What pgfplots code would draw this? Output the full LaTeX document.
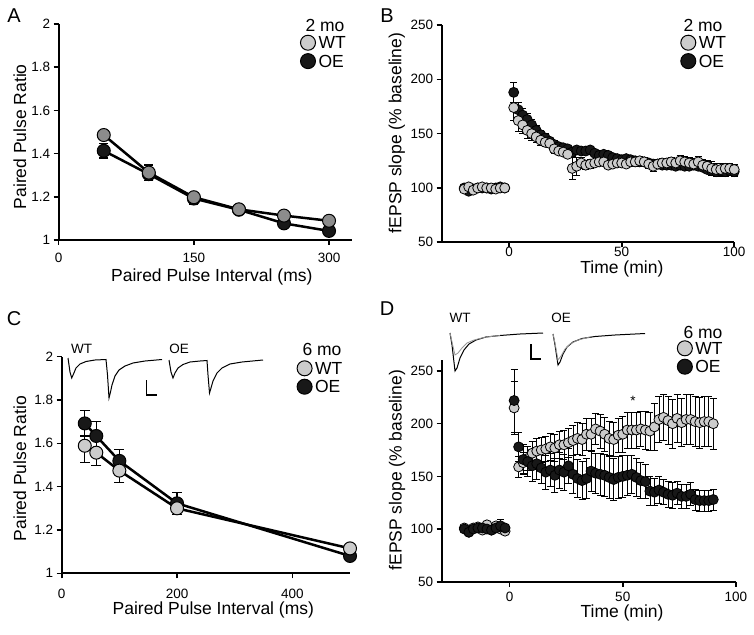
\documentclass[border=0pt]{standalone}
\usepackage{fontspec}
\setmainfont{Liberation Sans}
\usepackage{pgfplots}
\pgfplotsset{compat=1.18}
\definecolor{wtfill}{RGB}{204,204,204}
\definecolor{wtdark}{RGB}{140,140,140}
\definecolor{oefill}{RGB}{24,24,24}
\definecolor{tracegray}{RGB}{150,150,150}
\newcommand{\ticksize}{\fontsize{13.5}{15}\selectfont}
\newcommand{\labsize}{\fontsize{17.5}{19}\selectfont}

\pgfplotsset{
  panel/.style={
    scale only axis, anchor=south west, clip=false,
    axis lines*=left,
    axis line style={line width=2pt},
    tick align=outside, major tick length=5pt,
    every tick/.style={black, line width=1.6pt},
    tick label style={font=\ticksize},
    /pgf/number format/assume math mode=true,
    label style={font=\labsize},
    legend style={draw=none, fill=none, inner sep=0pt, outer sep=0pt,
      row sep=3.4pt, column sep=3pt, font=\labsize, anchor=north west,
      nodes={inner sep=0pt, text height=12.5pt, text depth=0pt}},
    legend image code/.code={\draw[##1] plot coordinates {(0pt,0pt)};},
    legend cell align=left,
  },
  ebar/.style 2 args={error bars/.cd, y dir=both, y explicit,
    error bar style={line width=#1, black},
    error mark options={rotate=90, mark size=#2, line width=#1, black}},
  wtleg/.style={only marks, mark=*, mark size=7.5pt, mark options={fill=wtfill, draw=black, line width=1pt}},
  oeleg/.style={only marks, mark=*, mark size=7.5pt, mark options={fill=oefill, draw=black, line width=1pt}},
}

\begin{document}
\begin{tikzpicture}
\path[use as bounding box] (0,0) rectangle (754pt,634pt);

% ---------------- A : paired pulse, 2 mo
\begin{axis}[panel, at={(58.7pt,394pt)}, width=293.3pt, height=216pt,
  xmin=0, xmax=325.5, ymin=1, ymax=2,
  xtick={0,150,300}, ytick={1,1.2,1.4,1.6,1.8,2},
  xticklabel style={yshift=-5pt},
  xlabel={Paired Pulse Interval (ms)}, ylabel={Paired Pulse Ratio},
  xlabel style={at={(axis description cs:0.522,-0.170)}, anchor=center},
  ylabel style={at={(axis description cs:-0.132,0.478)}, anchor=center},
  legend style={at={(axis description cs:0.8244,0.948)}},
]
\addlegendimage{wtleg}\addlegendentry{WT}
\addlegendimage{oeleg}\addlegendentry{OE}
\addplot[forget plot, black, line width=2.5pt, mark=*, mark size=6.5pt,
  mark options={fill=oefill, draw=black, line width=1pt}, ebar={1.2pt}{4.5pt}]
  coordinates {(50,1.413) +- (0,0.033) (100,1.305) +- (0,0.03) (150,1.192) +- (0,0.025)
   (200,1.140) +- (0,0.01) (250,1.077) +- (0,0.015) (300,1.042) +- (0,0.012)};
\addplot[forget plot, black, line width=2.5pt, mark=*, mark size=6.5pt,
  mark options={fill=wtdark, draw=black, line width=1pt}, ebar={1.2pt}{4.5pt}]
  coordinates {(50,1.486) +- (0,0.02) (100,1.312) +- (0,0.035) (150,1.198) +- (0,0.02)
   (200,1.142) +- (0,0.01) (250,1.113) +- (0,0.012) (300,1.089) +- (0,0.02)};
\end{axis}

% ---------------- B : LTP, 2 mo
\begin{axis}[panel, at={(441.7pt,391.7pt)}, width=292.5pt, height=217.3pt,
  xmin=-30, xmax=100, ymin=50, ymax=250,
  xtick={0,50,100}, ytick={50,100,150,200,250},
  xticklabel style={yshift=4pt},
  xlabel={Time (min)}, ylabel={fEPSP slope (\% baseline)},
  xlabel style={at={(axis description cs:0.616,-0.124)}, anchor=center},
  ylabel style={at={(axis description cs:-0.153,0.503)}, anchor=center},
  legend style={at={(axis description cs:0.8174,0.953)}},
]
\addlegendimage{wtleg}\addlegendentry{WT}
\addlegendimage{oeleg}\addlegendentry{OE}
\addplot[forget plot, only marks, mark=*, mark size=5pt,
  mark options={fill=oefill, draw=black, line width=0.8pt}, ebar={0.8pt}{3.5pt}]
  coordinates {
  (-20,100) +- (0,2) (-18,97) +- (0,2) (-16,99) +- (0,2) (-14,100) +- (0,2) (-12,100) +- (0,2)
  (-10,100) +- (0,2) (-8,99) +- (0,2) (-6,100) +- (0,2) (-4,101) +- (0,2) (-2,100) +- (0,2)
  (2,188) +- (0,9) (4,172) +- (0,7) (6,167) +- (0,6) (8,163) +- (0,6) (10,158) +- (0,5)
  (12,153) +- (0,5) (14,149) +- (0,4) (16,146) +- (0,4) (18,143) +- (0,4) (20,140) +- (0,4)
  (22,138) +- (0,3) (24,137) +- (0,3) (26,136) +- (0,3) (28,133) +- (0,4) (30,135) +- (0,3)
  (32,134) +- (0,3) (34,134) +- (0,3) (36,135) +- (0,3) (38,132) +- (0,3) (40,130) +- (0,3)
  (42,131) +- (0,3) (44,130) +- (0,3) (46,128) +- (0,3) (48,127) +- (0,3) (50,126) +- (0,3)
  (52,127) +- (0,3) (54,126) +- (0,3) (56,125) +- (0,3) (58,124) +- (0,3) (60,124) +- (0,3)
  (62,123) +- (0,3) (64,122) +- (0,3) (66,122) +- (0,3) (68,121) +- (0,3) (70,121) +- (0,3)
  (72,121) +- (0,3) (74,120) +- (0,3) (76,121) +- (0,3) (78,120) +- (0,3) (80,120) +- (0,3)
  (82,121) +- (0,3) (84,120) +- (0,3) (86,119) +- (0,3) (88,117) +- (0,3) (90,116) +- (0,4)
  (92,115) +- (0,4) (94,116) +- (0,4) (96,115) +- (0,4) (98,116) +- (0,4) (100,115) +- (0,4)};
\addplot[forget plot, only marks, mark=*, mark size=5pt,
  mark options={fill=wtfill, draw=black, line width=0.8pt}, ebar={0.8pt}{3.5pt}]
  coordinates {
  (-20,99) +- (0,2) (-18,101) +- (0,2) (-16,98) +- (0,2) (-14,100) +- (0,2) (-12,101) +- (0,2)
  (-10,100) +- (0,2) (-8,100) +- (0,2) (-6,99) +- (0,2) (-4,100) +- (0,2) (-2,100) +- (0,2)
  (2,174) +- (0,12) (4,162) +- (0,10) (6,158) +- (0,8) (8,153) +- (0,7) (10,150) +- (0,6)
  (12,147) +- (0,5) (14,144) +- (0,5) (16,142) +- (0,4) (18,141) +- (0,4) (20,136) +- (0,4)
  (22,134) +- (0,3) (24,133) +- (0,3) (26,131) +- (0,3) (28,118) +- (0,10) (30,120) +- (0,8)
  (32,123) +- (0,5) (34,121) +- (0,4) (36,122) +- (0,4) (38,123) +- (0,3) (40,124) +- (0,3)
  (42,124) +- (0,3) (44,121) +- (0,3) (46,122) +- (0,3) (48,123) +- (0,3) (50,123) +- (0,3)
  (52,122) +- (0,3) (54,124) +- (0,3) (56,124) +- (0,4) (58,125) +- (0,4) (60,124) +- (0,4)
  (62,122) +- (0,4) (64,120) +- (0,5) (66,122) +- (0,4) (68,123) +- (0,4) (70,123) +- (0,4)
  (72,124) +- (0,4) (74,123) +- (0,4) (76,125) +- (0,5) (78,124) +- (0,5) (80,123) +- (0,5)
  (82,122) +- (0,5) (84,124) +- (0,5) (86,121) +- (0,5) (88,120) +- (0,5) (90,118) +- (0,6)
  (92,117) +- (0,6) (94,117) +- (0,6) (96,118) +- (0,5) (98,118) +- (0,5) (100,117) +- (0,5)};
\end{axis}

% ---------------- C : paired pulse, 6 mo
\begin{axis}[panel, at={(61.7pt,60.7pt)}, width=288.3pt, height=216.6pt,
  xmin=0, xmax=500, ymin=1, ymax=2,
  xtick={0,200,400}, ytick={1,1.2,1.4,1.6,1.8,2},
  xticklabel style={yshift=-7pt},
  xlabel={Paired Pulse Interval (ms)}, ylabel={Paired Pulse Ratio},
  xlabel style={at={(axis description cs:0.526,-0.171)}, anchor=center},
  ylabel style={at={(axis description cs:-0.145,0.483)}, anchor=center},
  legend style={at={(axis description cs:0.8165,0.981)}},
]
\addlegendimage{wtleg}\addlegendentry{WT}
\addlegendimage{oeleg}\addlegendentry{OE}
\addplot[forget plot, black, line width=2.5pt, mark=*, mark size=6.5pt,
  mark options={fill=oefill, draw=black, line width=1pt}, ebar={1.2pt}{5pt}]
  coordinates {(40,1.692) +- (0,0.058) (60,1.634) +- (0,0.066) (100,1.519) +- (0,0.054)
   (200,1.323) +- (0,0.05) (500,1.080) +- (0,0.02)};
\addplot[forget plot, black, line width=2.5pt, mark=*, mark size=6.5pt,
  mark options={fill=wtfill, draw=black, line width=1pt}, ebar={1.2pt}{5pt}]
  coordinates {(40,1.589) +- (0,0.078) (60,1.557) +- (0,0.06) (100,1.474) +- (0,0.054)
   (200,1.300) +- (0,0.03) (500,1.115) +- (0,0.012)};
\end{axis}

% ---------------- D : LTP, 6 mo
\begin{axis}[panel, at={(441.7pt,52.3pt)}, width=294.2pt, height=221.2pt,
  xmin=-30, xmax=100, ymin=50, ymax=260,
  xtick={0,50,100}, ytick={50,100,150,200,250},
  xticklabel style={yshift=-2pt},
  xlabel={Time (min)}, ylabel={fEPSP slope (\% baseline)},
  xlabel style={at={(axis description cs:0.613,-0.140)}, anchor=center},
  ylabel style={at={(axis description cs:-0.152,0.504)}, anchor=center},
  legend style={at={(axis description cs:0.801,1.089)}},
]
\addlegendimage{wtleg}\addlegendentry{WT}
\addlegendimage{oeleg}\addlegendentry{OE}
\addplot[forget plot, only marks, mark=*, mark size=5pt,
  mark options={fill=wtfill, draw=black, line width=0.8pt}, ebar={0.8pt}{3.5pt}]
  coordinates {
  (-20,101) +- (0,2) (-18,97) +- (0,2) (-16,101) +- (0,2) (-14,102) +- (0,2) (-12,99) +- (0,2)
  (-10,104) +- (0,2) (-8,99) +- (0,2) (-6,103) +- (0,2) (-4,100) +- (0,2) (-2,98) +- (0,2)
  (2,215) +- (0,25) (4,159) +- (0,10) (6,163) +- (0,10) (8,167) +- (0,11) (10,172) +- (0,11)
  (12,174) +- (0,12) (14,175) +- (0,12) (16,176) +- (0,12) (18,178) +- (0,13) (20,177) +- (0,13)
  (22,180) +- (0,13) (24,180) +- (0,14) (26,182) +- (0,14) (28,184) +- (0,14) (30,186) +- (0,15)
  (32,185) +- (0,15) (34,190) +- (0,15) (36,190) +- (0,15) (38,195) +- (0,15) (40,193) +- (0,16)
  (42,190) +- (0,16) (44,186) +- (0,16) (46,185) +- (0,16) (48,189) +- (0,16) (50,190) +- (0,17)
  (52,194) +- (0,17) (54,194) +- (0,17) (56,194) +- (0,17) (58,195) +- (0,17) (60,194) +- (0,18)
  (62,193) +- (0,18) (64,197) +- (0,22) (66,204) +- (0,22) (68,206) +- (0,22) (70,203) +- (0,23)
  (72,200) +- (0,23) (74,205) +- (0,23) (76,201) +- (0,23) (78,204) +- (0,24) (80,204) +- (0,24)
  (82,202) +- (0,24) (84,201) +- (0,24) (86,202) +- (0,24) (88,202) +- (0,24) (90,200) +- (0,24)};
\addplot[forget plot, only marks, mark=*, mark size=5pt,
  mark options={fill=oefill, draw=black, line width=0.8pt}, ebar={0.8pt}{3.5pt}]
  coordinates {
  (-20,100) +- (0,3) (-18,97) +- (0,3) (-16,100) +- (0,3) (-14,101) +- (0,3) (-12,101) +- (0,3)
  (-10,100) +- (0,3) (-8,99) +- (0,3) (-6,101) +- (0,3) (-4,103) +- (0,6) (-2,101) +- (0,3)
  (2,222) +- (0,30) (4,178) +- (0,14) (6,166) +- (0,14) (8,164) +- (0,14) (10,160) +- (0,15)
  (12,162) +- (0,15) (14,158) +- (0,15) (16,154) +- (0,16) (18,156) +- (0,16) (20,151) +- (0,16)
  (22,156) +- (0,17) (24,154) +- (0,17) (26,160) +- (0,17) (28,152) +- (0,18) (30,148) +- (0,18)
  (32,146) +- (0,18) (34,148) +- (0,19) (36,155) +- (0,19) (38,153) +- (0,19) (40,152) +- (0,20)
  (42,151) +- (0,20) (44,149) +- (0,20) (46,147) +- (0,20) (48,149) +- (0,20) (50,150) +- (0,20)
  (52,151) +- (0,19) (54,152) +- (0,18) (56,149) +- (0,18) (58,146) +- (0,17) (60,145) +- (0,16)
  (62,136) +- (0,14) (64,135) +- (0,13) (66,137) +- (0,13) (68,135) +- (0,12) (70,133) +- (0,12)
  (72,132) +- (0,12) (74,134) +- (0,11) (76,131) +- (0,11) (78,131) +- (0,11) (80,133) +- (0,11)
  (82,128) +- (0,10) (84,127) +- (0,10) (86,127) +- (0,10) (88,127) +- (0,10) (90,128) +- (0,10)};
\node[font=\ticksize] at (axis cs:54.5,222) {*};
\end{axis}

% ---------------- overlay: panel letters, group labels, sample traces
\begin{axis}[at={(0pt,0pt)}, anchor=south west, scale only axis,
  width=754pt, height=634pt, xmin=0, xmax=754, ymin=0, ymax=634,
  y dir=reverse, hide axis, clip=false]
\node[font=\fontsize{20}{22}\selectfont] at (axis cs:14,15.5) {A};
\node[font=\fontsize{20}{22}\selectfont] at (axis cs:387,15.5) {B};
\node[font=\fontsize{20}{22}\selectfont] at (axis cs:14,319) {C};
\node[font=\fontsize{20}{22}\selectfont] at (axis cs:387,309) {D};
\node[font=\labsize] at (axis cs:325,25) {2 mo};
\node[font=\labsize] at (axis cs:703,25) {2 mo};
\node[font=\labsize] at (axis cs:322,349.5) {6 mo};
\node[font=\labsize] at (axis cs:703,332) {6 mo};
\node[font=\ticksize] at (axis cs:81.7,348.7) {WT};
\node[font=\ticksize] at (axis cs:179,348.7) {OE};
\node[font=\ticksize] at (axis cs:460,318) {WT};
\node[font=\ticksize] at (axis cs:561,318) {OE};
% panel C traces
\addplot[black, line width=1pt] coordinates {(68,358) (70,372) (71.7,378) (73.5,374) (76,368)
  (80,364) (86,361.5) (95,360) (106,359.5) (107.5,375) (109,398) (110.5,392) (112,385)
  (115,376) (119,370) (125,366) (133,363) (145,361) (162,359.5)};
\addplot[black, line width=1pt] coordinates {(169,360) (171,372) (173,378) (175,373) (178,368)
  (183,364.5) (190,362) (200,361) (207,360.5) (208,375) (209.5,393) (211,388) (213,381)
  (217,373) (222,368) (230,364) (242,362) (263,360)};
\addplot[black, line width=1.5pt] coordinates {(146.7,380) (146.7,395) (156.7,395)};
% panel D traces
\addplot[black, line width=1pt] coordinates {(450,333) (452,345) (455,371) (457,368) (460,358)
  (464,350) (469,344) (476,340) (486,337) (500,335.5) (520,334) (543,333)};
\addplot[tracegray, line width=0.8pt] coordinates {(450,333) (452,342) (455,355) (458,353)
  (462,348) (467,343) (474,340) (486,337) (500,335.5)};
\addplot[black, line width=1pt] coordinates {(553,334) (555,345) (558,365) (560,362) (563,354)
  (567,347) (573,342) (582,338.5) (595,336.5) (615,335) (645,333.5)};
\addplot[tracegray, line width=0.8pt] coordinates {(553,334) (555,343) (558,360) (561,356)
  (565,349) (570,344) (578,340) (590,337)};
\addplot[black, line width=1.5pt] coordinates {(531,344) (531,359) (541,359)};
\end{axis}
\end{tikzpicture}
\end{document}
